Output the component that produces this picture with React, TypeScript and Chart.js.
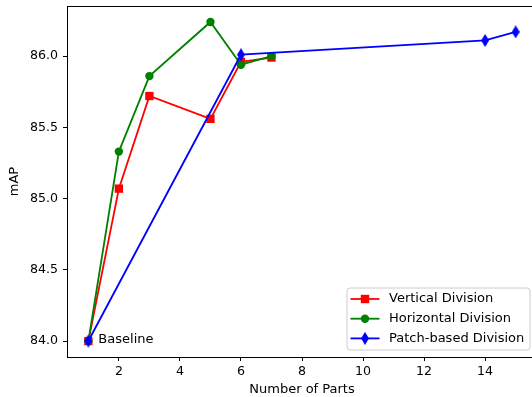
import React, { useEffect, useRef } from 'react';
import { Chart, registerables } from 'chart.js';

Chart.register(...registerables);

// ---- data ----
const vertX = [1, 2, 3, 5, 6, 7];
const vertY = [84.0, 85.07, 85.72, 85.56, 85.96, 85.99];
const horzX = [1, 2, 3, 5, 6, 7];
const horzY = [84.0, 85.33, 85.86, 86.24, 85.94, 86.0];
const patchX = [1, 6, 14, 15];
const patchY = [84.0, 86.01, 86.11, 86.17];
const xTicks = [2, 4, 6, 8, 10, 12, 14];
const yTicks = [84.0, 84.5, 85.0, 85.5, 86.0];
const seriesNames = ['Vertical Division', 'Horizontal Division', 'Patch-based Division'];
const seriesColors = ['#ff0000', '#008000', '#0000ff'];
const baselineLabel = 'Baseline';
const baselineX = 1;
const baselineY = 84.0;
const xTitle = 'Number of Parts';
const yTitle = 'mAP';
const xMin = 0.3;
const xMax = 15.7;
const yMin = 83.888;
const yMax = 86.352;

const FONT = '"DejaVu Sans", sans-serif';

function makeDiamond(color: string, w: number, h: number) {
  const c = document.createElement('canvas');
  c.width = w;
  c.height = h;
  const ctx = c.getContext('2d')!;
  ctx.fillStyle = color;
  ctx.beginPath();
  ctx.moveTo(w / 2, 0);
  ctx.lineTo(w, h / 2);
  ctx.lineTo(w / 2, h);
  ctx.lineTo(0, h / 2);
  ctx.closePath();
  ctx.fill();
  return c;
}

function toPts(xs: number[], ys: number[]) {
  return xs.map((x, i) => ({ x, y: ys[i] }));
}

export default function App() {
  const ref = useRef<HTMLCanvasElement | null>(null);

  useEffect(() => {
    if (!ref.current) return;
    const diamond = makeDiamond(seriesColors[2], 8, 13);

    const drawMarker = (ctx: CanvasRenderingContext2D, kind: number, x: number, y: number) => {
      ctx.save();
      ctx.fillStyle = seriesColors[kind];
      if (kind === 0) {
        ctx.fillRect(x - 4.2, y - 4.2, 8.4, 8.4);
      } else if (kind === 1) {
        ctx.beginPath();
        ctx.arc(x, y, 4.2, 0, Math.PI * 2);
        ctx.fill();
      } else {
        ctx.drawImage(diamond, x - diamond.width / 2, y - diamond.height / 2);
      }
      ctx.restore();
    };

    const overlay = {
      id: 'overlay',
      afterDraw(chart: any) {
        const { ctx, chartArea, scales } = chart;
        ctx.save();
        // top and right spines
        ctx.strokeStyle = '#000';
        ctx.lineWidth = 1;
        ctx.beginPath();
        ctx.moveTo(chartArea.left, Math.round(chartArea.top) + 0.5);
        ctx.lineTo(chartArea.right, Math.round(chartArea.top) + 0.5);
        ctx.moveTo(Math.round(chartArea.right) - 0.5, chartArea.top);
        ctx.lineTo(Math.round(chartArea.right) - 0.5, chartArea.bottom);
        ctx.stroke();

        // baseline annotation
        ctx.fillStyle = '#000';
        ctx.font = `13px ${FONT}`;
        ctx.textAlign = 'left';
        ctx.textBaseline = 'middle';
        ctx.fillText(
          baselineLabel,
          scales.x.getPixelForValue(baselineX) + 10,
          scales.y.getPixelForValue(baselineY) - 1
        );

        // legend
        const bw = 183;
        const bh = 62;
        const bx = chartArea.right - 7 - bw;
        const by = chartArea.bottom - 7 - bh;
        ctx.beginPath();
        const r = 3;
        ctx.moveTo(bx + r, by);
        ctx.lineTo(bx + bw - r, by);
        ctx.quadraticCurveTo(bx + bw, by, bx + bw, by + r);
        ctx.lineTo(bx + bw, by + bh - r);
        ctx.quadraticCurveTo(bx + bw, by + bh, bx + bw - r, by + bh);
        ctx.lineTo(bx + r, by + bh);
        ctx.quadraticCurveTo(bx, by + bh, bx, by + bh - r);
        ctx.lineTo(bx, by + r);
        ctx.quadraticCurveTo(bx, by, bx + r, by);
        ctx.closePath();
        ctx.fillStyle = 'rgba(255,255,255,0.8)';
        ctx.fill();
        ctx.strokeStyle = '#cccccc';
        ctx.lineWidth = 1;
        ctx.stroke();

        seriesNames.forEach((name, i) => {
          const cy = by + 11 + i * 19.7;
          const hx = bx + 3.5;
          ctx.strokeStyle = seriesColors[i];
          ctx.lineWidth = 1.8;
          ctx.beginPath();
          ctx.moveTo(hx, cy);
          ctx.lineTo(hx + 29, cy);
          ctx.stroke();
          drawMarker(ctx, i, hx + 14.5, cy);
          ctx.fillStyle = '#000';
          ctx.font = `13px ${FONT}`;
          ctx.textAlign = 'left';
          ctx.textBaseline = 'middle';
          ctx.fillText(name, bx + 42, cy);
        });
        ctx.restore();
      },
    };

    const chart = new Chart(ref.current, {
      type: 'line',
      data: {
        datasets: [
          {
            label: seriesNames[0],
            data: toPts(vertX, vertY),
            borderColor: seriesColors[0],
            backgroundColor: seriesColors[0],
            borderWidth: 1.8,
            pointStyle: 'rect',
            pointRadius: 5.9,
            pointBorderWidth: 0,
            order: 3,
          },
          {
            label: seriesNames[1],
            data: toPts(horzX, horzY),
            borderColor: seriesColors[1],
            backgroundColor: seriesColors[1],
            borderWidth: 1.8,
            pointStyle: 'circle',
            pointRadius: 4.2,
            pointBorderWidth: 0,
            order: 2,
          },
          {
            label: seriesNames[2],
            data: toPts(patchX, patchY),
            borderColor: seriesColors[2],
            backgroundColor: seriesColors[2],
            borderWidth: 1.8,
            pointStyle: diamond,
            pointRadius: 5,
            pointBorderWidth: 0,
            order: 1,
          },
        ],
      },
      options: {
        animation: false,
        responsive: false,
        layout: { padding: { top: 6, right: 8, left: 0, bottom: 0 } },
        plugins: {
          legend: { display: false },
          tooltip: { enabled: false },
        },
        elements: { line: { tension: 0 } },
        scales: {
          x: {
            type: 'linear',
            min: xMin,
            max: xMax,
            afterBuildTicks: (s: any) => {
              s.ticks = xTicks.map((v) => ({ value: v }));
            },
            afterFit: (s: any) => {
              s.height = 40;
              s.paddingLeft = 0;
              s.paddingRight = 0;
            },
            grid: { drawOnChartArea: false, drawTicks: true, tickLength: 4, color: '#000' },
            border: { display: true, color: '#000', width: 1 },
            ticks: {
              color: '#000',
              padding: 3,
              maxRotation: 0,
              autoSkip: false,
              font: { family: FONT, size: 12.6 },
              callback: (v: any) => String(v),
            },
            title: {
              display: true,
              text: xTitle,
              color: '#000',
              font: { family: FONT, size: 13 },
              padding: { top: 0, bottom: 0 },
            },
          },
          y: {
            type: 'linear',
            min: yMin,
            max: yMax,
            afterBuildTicks: (s: any) => {
              s.ticks = yTicks.map((v) => ({ value: v }));
            },
            afterFit: (s: any) => {
              s.width = 67;
              s.paddingTop = 0;
              s.paddingBottom = 0;
            },
            grid: { drawOnChartArea: false, drawTicks: true, tickLength: 4, color: '#000' },
            border: { display: true, color: '#000', width: 1 },
            ticks: {
              color: '#000',
              padding: 5,
              autoSkip: false,
              font: { family: FONT, size: 12.6 },
              callback: (v: any) => Number(v).toFixed(1),
            },
            title: {
              display: true,
              text: yTitle,
              color: '#000',
              font: { family: FONT, size: 13 },
              padding: { top: 7, bottom: 0 },
            },
          },
        },
      },
      plugins: [overlay],
    } as any);

    return () => chart.destroy();
  }, []);

  return (
    <div
      style={{
        position: 'fixed',
        left: 0,
        top: 0,
        width: 532,
        height: 397,
        overflow: 'hidden',
        background: '#fff',
      }}
    >
      <canvas ref={ref} width={545} height={397} style={{ display: 'block' }} />
    </div>
  );
}
